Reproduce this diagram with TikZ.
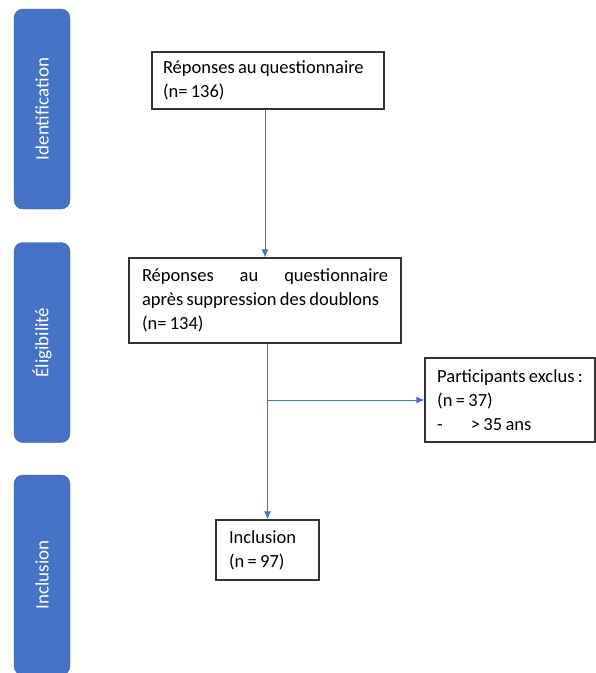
\documentclass[tikz,border=0pt]{standalone}
\usepackage{fontspec}
\setmainfont{Carlito}
\usepackage{tikz}
\usetikzlibrary{arrows.meta}

\definecolor{bleuoffice}{HTML}{4472C4}
\definecolor{bordbleu}{HTML}{3A62A8}
\newcommand\espaceserre{\spaceskip=0.18em plus 0.4em minus 0.04em\relax}

\tikzset{
  etape/.style={draw=bordbleu, fill=bleuoffice, rounded corners=9pt, rotate=90,
    minimum width=200, minimum height=56, text=white, font=\fontsize{19}{22}\selectfont},
  boite/.style={draw=black!80, line width=1.4pt, align=flush left,
    font=\fontsize{18.5}{24}\selectfont\espaceserre},
  fleche/.style={draw=bleuoffice, line width=0.9pt, -{Latex[length=8pt,width=7pt]}}
}

\begin{document}
\begin{tikzpicture}[x=1pt, y=-1pt]
% page frame: pixel coordinates, origin at top left
\useasboundingbox (0,0) rectangle (596,673);

% phases on the left
\node[etape] (ident) at (42,109) {Identification};
\node[etape] (eligi) at (42,342.5) {Éligibilité};
\node[etape] (inclu) at (42,575) {Inclusion};

% boxes of the flow chart
\node[boite, minimum width=232, minimum height=57, inner xsep=11, text width=210] (rep) at (268,80.5)
  {Réponses au questionnaire\\(n= 136)};
\node[boite, minimum width=270, minimum height=85, inner xsep=13, text width=246, align=justify] (doub) at (265,300.5)
  {Réponses au questionnaire\linebreak après suppression des doublons\\(n= 134)};
\node[boite, minimum width=170, minimum height=84, inner xsep=11, align=left] (excl) at (510,400)
  {Participants exclus :\\(n = 37)\\-\hspace{28pt}> 35 ans\hspace{40pt}};
\node[boite, minimum width=103, minimum height=60, inner xsep=13, text width=77] (incl) at (267.5,550)
  {Inclusion\\(n = 97)};

% connectors
\draw[fleche] (doub.north |- rep.south) -- (doub.north);
\draw[fleche] (incl.north |- doub.south) -- (incl.north);
\coordinate (branche) at (incl.north |- excl.west);
\draw[fleche] (branche) -- (excl.west);
\end{tikzpicture}
\end{document}
